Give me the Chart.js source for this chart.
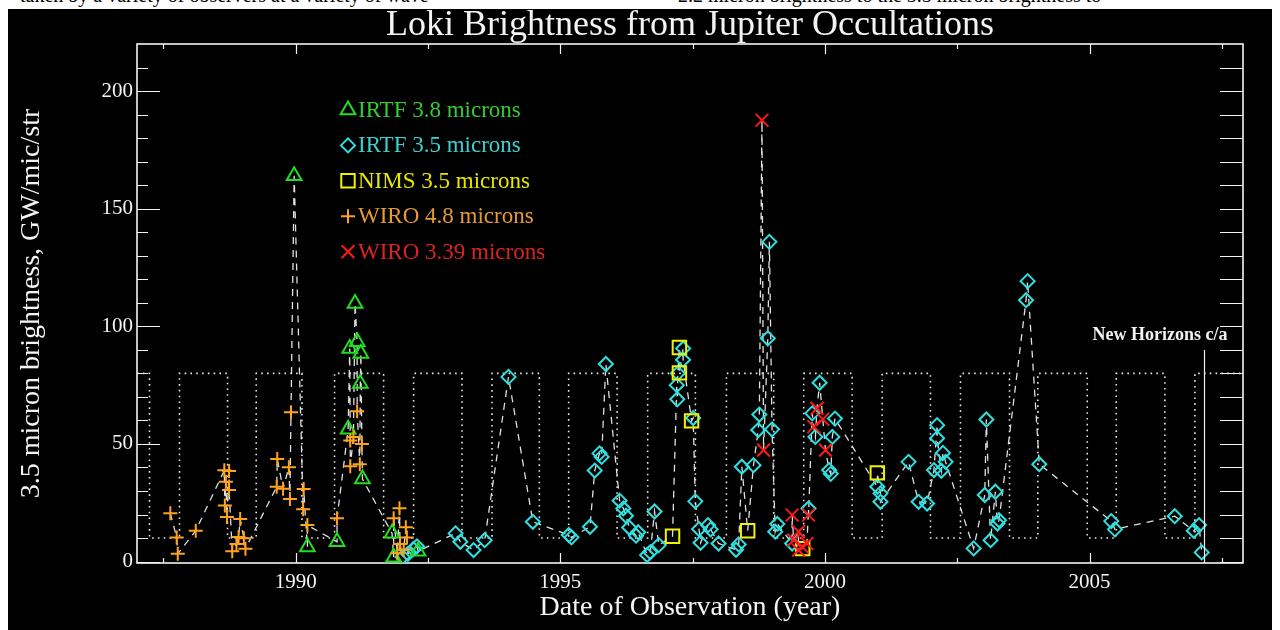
<!DOCTYPE html>
<html>
<head>
<meta charset="utf-8">
<script src="https://cdn.jsdelivr.net/npm/chart.js@4.4.1/dist/chart.umd.min.js"></script>
<style>
  html, body { margin: 0; padding: 0; background: #fff; width: 1280px; height: 630px; overflow: hidden; }
  #caption { position: absolute; left: 0; top: -16px; width: 1280px; height: 30px; font: 20px 'Liberation Serif', serif; color: #000; white-space: nowrap; }
  #caption span { position: absolute; top: 0; }
  #frame { position: absolute; left: 8px; top: 9px; width: 1264px; height: 621px; background: #000; z-index: 1; }
  canvas { display: block; }
</style>
</head>
<body>
<div id="caption"><span style="left:20px">taken by a variety of observers at a variety of wave</span><span style="left:678px">2.2 micron brightness to the 3.5 micron brightness to</span></div>
<div id="frame"><canvas id="chart" width="1264" height="621"></canvas></div>
<script>
const FONT = "'Liberation Serif', 'DejaVu Serif', serif";

// IRTF 3.8 microns (green triangles)
const irtf38Years = [1989.97, 1990.22, 1990.78, 1991.12, 1991.16, 1991.02, 1991.23, 1991.22, 1990.99, 1991.26, 1991.82, 1991.85, 1992.31];
const irtf38Values = [164, 6.2, 8.4, 109.7, 93.4, 90.6, 88.5, 75.7, 56.2, 35.1, 12.0, 1.8, 4.4];

// IRTF 3.5 microns (cyan diamonds)
const irtf35Years = [1992.02, 1992.12, 1992.22, 1992.29, 1993.02, 1993.11, 1993.36, 1993.57, 1994.02, 1994.48,
  1995.16, 1995.21, 1995.56, 1995.65, 1995.74, 1995.78, 1995.86, 1996.12, 1996.19, 1996.24, 1996.30, 1996.43,
  1996.47, 1996.64, 1996.70, 1996.78, 1996.86, 1997.20, 1997.21, 1997.22, 1997.32, 1997.32, 1997.51, 1997.55,
  1997.62, 1997.65, 1997.79, 1997.84, 1997.99, 1998.32, 1998.37, 1998.43, 1998.65, 1998.76, 1998.74, 1998.92,
  1998.95, 1999.00, 1999.06, 1999.10, 1999.38, 1999.69, 1999.90, 1999.76, 1999.82, 2000.19, 2000.14, 2000.08,
  2000.11, 2000.99, 2001.05, 2001.05, 2001.58, 2001.77, 2001.93, 2002.12, 2002.12, 2002.23, 2002.28, 2002.06,
  2002.20, 2002.81, 2003.05, 2003.02, 2003.22, 2003.13, 2003.26, 2003.29, 2003.83, 2003.80, 2004.05, 2005.41,
  2005.48, 2006.61, 2006.97, 2007.07, 2007.12];
const irtf35Values = [2.0, 3.3, 5.3, 6.5, 12.0, 8.4, 4.9, 9.1, 78.5, 16.9,
  11.3, 10.3, 14.8, 38.7, 46.0, 44.5, 84.0, 25.9, 22.6, 19.5, 14.5, 11.0,
  12.5, 2.8, 4.0, 21.3, 7.0, 75.0, 69.0, 80.0, 90.6, 85.8, 61.0, 25.6,
  13.8, 8.0, 15.5, 13.7, 7.7, 5.0, 7.3, 40.3, 41.0, 62.5, 55.9, 94.9,
  135.9, 56.2, 12.7, 16.0, 7.7, 22.6, 76.0, 63.0, 53.0, 60.8, 53.0, 38.9,
  37.3, 31.8, 29.0, 25.4, 42.4, 25.4, 24.7, 58.0, 52.4, 46.2, 42.4, 38.9,
  38.6, 5.6, 60.4, 28.3, 29.7, 9.1, 16.2, 17.6, 119.2, 111.1, 41.4, 17.2,
  13.7, 19.3, 13.1, 15.5, 3.9];

// NIMS 3.5 microns (yellow squares)
const nimsYears = [1997.25, 1997.25, 1997.48, 1997.12, 1998.54, 1999.58, 2000.99];
const nimsValues = [91.0, 80.2, 59.8, 10.8, 13.1, 5.5, 37.7];

// WIRO 4.8 microns (orange plus)
const wiro48Years = [1987.63, 1987.75, 1987.77, 1988.11, 1988.65, 1988.74, 1988.68, 1988.74, 1988.66, 1988.70,
  1988.95, 1988.92, 1988.88, 1988.80, 1989.05, 1989.02, 1989.65, 1989.64, 1989.76, 1989.87, 1989.91, 1989.89,
  1990.15, 1990.14, 1990.22, 1990.78, 1991.16, 1991.09, 1991.03, 1991.25, 1991.03, 1991.21, 1991.96, 1991.85,
  1992.08, 1992.10, 1991.97, 1992.04, 1991.92];
const wiro48Values = [20.5, 10.2, 3.3, 13.1, 38.8, 38.5, 33.9, 30.4, 23.8, 19.0,
  18.1, 10.5, 7.5, 4.4, 5.5, 9.9, 43.6, 31.8, 31.0, 40.1, 63.5, 26.6,
  30.9, 22.2, 15.5, 18.4, 63.9, 53.0, 51.5, 50.0, 40.5, 41.4, 22.7, 18.4,
  14.6, 10.2, 7.5, 5.0, 3.5];

// WIRO 3.39 microns (red x)
const wiro339Years = [1998.81, 1998.84, 1999.38, 1999.69, 1999.50, 1999.41, 1999.57, 1999.66, 1999.50, 1999.85, 1999.79, 1999.96, 2000.01];
const wiro339Values = [187.6, 47.4, 19.8, 19.8, 12.7, 9.1, 6.3, 7.7, 4.9, 65.1, 57.3, 60.5, 47.4];

// dotted square wave: observing windows
const windowFall = [1987.236, 1988.711, 1990.117, 1991.660, 1993.142, 1994.603, 1996.072, 1997.552, 1999.032, 2000.514, 2001.994, 2003.488, 2004.957, 2006.424];
const windowRise = [1987.803, 1989.253, 1990.733, 1992.227, 1993.709, 1995.157, 1996.650, 1998.138, 1999.599, 2001.081, 2002.561, 2004.023, 2005.505, 2006.991];
const windowHigh = 80;
const windowLow = 10;

const newHorizonsYear = 2007.16;

const xMin = 1987, xMax = 2007.9;
const yMin = -0.6, yMax = 220;
const xTicks = [1987.5, 1990, 1992.5, 1995, 1997.5, 2000, 2002.5, 2005, 2007.5];
const yTicks = [0, 10, 20, 30, 40, 50, 60, 70, 80, 90, 100, 110, 120, 130, 140, 150, 160, 170, 180, 190, 200, 210];

const pts = (xs, ys) => xs.map((x, i) => ({ x: x, y: ys[i] }));

// square wave path
const wavePts = [{ x: xMin, y: windowHigh }];
windowFall.forEach((f, i) => {
  wavePts.push({ x: f, y: windowHigh }, { x: f, y: windowLow });
  wavePts.push({ x: windowRise[i], y: windowLow }, { x: windowRise[i], y: windowHigh });
});
wavePts.push({ x: xMax, y: windowHigh });

// all points in time order for the dashed connector
const allPts = [].concat(
  pts(irtf38Years, irtf38Values), pts(irtf35Years, irtf35Values), pts(nimsYears, nimsValues),
  pts(wiro48Years, wiro48Values), pts(wiro339Years, wiro339Values)
).sort((a, b) => a.x - b.x);

const series = [
  { label: 'IRTF 3.8 microns', color: '#22dd22', text: '#33cc33', style: 'triangle', r: 8.5, data: pts(irtf38Years, irtf38Values), order: 3 },
  { label: 'IRTF 3.5 microns', color: '#2fe0e0', text: '#3cd0d0', style: 'rectRot', r: 7, data: pts(irtf35Years, irtf35Values), order: 5 },
  { label: 'NIMS 3.5 microns', color: '#f2f200', text: '#e6e600', style: 'rect', r: 9.5, data: pts(nimsYears, nimsValues), order: 4 },
  { label: 'WIRO 4.8 microns', color: '#ffa21c', text: '#e89a35', style: 'cross', r: 7, data: pts(wiro48Years, wiro48Values), order: 2 },
  { label: 'WIRO 3.39 microns', color: '#ff1a1a', text: '#dd2222', style: 'crossRot', r: 9, data: pts(wiro339Years, wiro339Values), order: 1 }
];

const datasets = [
  { label: 'windows', data: wavePts, showLine: true, pointRadius: 0, borderColor: '#e8e8e8', borderWidth: 1.6, borderDash: [1.6, 4.2], order: 10 },
  { label: 'connector', data: allPts, showLine: true, pointRadius: 0, borderColor: '#e0e0e0', borderWidth: 1.3, borderDash: [7, 6], order: 9 }
].concat(series.map(s => ({
  label: s.label, data: s.data, showLine: false, pointStyle: s.style, pointRadius: s.r,
  pointBorderColor: s.color, pointBackgroundColor: 'rgba(0,0,0,0)', pointBorderWidth: 2, order: s.order
})));

function marker(ctx, style, cx, cy, r) {
  ctx.beginPath();
  if (style === 'triangle') {
    ctx.moveTo(cx, cy - r); ctx.lineTo(cx + r * 0.866, cy + r * 0.5); ctx.lineTo(cx - r * 0.866, cy + r * 0.5); ctx.closePath();
  } else if (style === 'rectRot') {
    ctx.moveTo(cx, cy - r); ctx.lineTo(cx + r, cy); ctx.lineTo(cx, cy + r); ctx.lineTo(cx - r, cy); ctx.closePath();
  } else if (style === 'rect') {
    const h = r * Math.SQRT1_2; ctx.rect(cx - h, cy - h, 2 * h, 2 * h);
  } else if (style === 'cross') {
    ctx.moveTo(cx - r, cy); ctx.lineTo(cx + r, cy); ctx.moveTo(cx, cy - r); ctx.lineTo(cx, cy + r);
  } else {
    const h = r * Math.SQRT1_2;
    ctx.moveTo(cx - h, cy - h); ctx.lineTo(cx + h, cy + h); ctx.moveTo(cx + h, cy - h); ctx.lineTo(cx - h, cy + h);
  }
  ctx.stroke();
}

const axesBox = {
  id: 'axesBox',
  beforeDatasetsDraw(chart) {
    const { ctx, chartArea: a, scales: { x, y } } = chart;
    ctx.save();
    ctx.strokeStyle = '#f4f4f4';
    ctx.lineWidth = 1.2;
    ctx.beginPath();
    xTicks.forEach(v => {
      const px = Math.round(x.getPixelForValue(v)) + 0.5;
      const len = v % 5 === 0 ? 10 : 5;
      ctx.moveTo(px, a.bottom); ctx.lineTo(px, a.bottom - len);
      ctx.moveTo(px, a.top); ctx.lineTo(px, a.top + len);
    });
    yTicks.forEach(v => {
      const py = Math.round(y.getPixelForValue(v)) + 0.5;
      const len = v % 50 === 0 ? 23 : 11;
      ctx.moveTo(a.left, py); ctx.lineTo(a.left + len, py);
      ctx.moveTo(a.right, py); ctx.lineTo(a.right - 23, py);
    });
    ctx.stroke();
    ctx.lineWidth = 1.6;
    ctx.strokeRect(a.left, a.top, a.right - a.left, a.bottom - a.top);
    ctx.restore();
  },
  afterDatasetsDraw(chart) {
    const { ctx, chartArea: a, scales: { x, y } } = chart;
    ctx.save();
    // New Horizons closest approach
    const nx = Math.round(x.getPixelForValue(newHorizonsYear)) + 0.5;
    ctx.strokeStyle = '#eeeeee';
    ctx.lineWidth = 1.2;
    ctx.beginPath();
    ctx.moveTo(nx, a.bottom); ctx.lineTo(nx, y.getPixelForValue(90));
    ctx.stroke();
    ctx.fillStyle = '#f2f2f2';
    ctx.font = 'bold 18px ' + FONT;
    ctx.textAlign = 'right';
    ctx.textBaseline = 'middle';
    ctx.fillText('New Horizons c/a', nx + 23, y.getPixelForValue(96));
    // legend
    ctx.font = '23px ' + FONT;
    ctx.textAlign = 'left';
    ctx.lineWidth = 2;
    series.forEach((s, i) => {
      const cy = a.top + 66 + i * 35.4;
      const cx = a.left + 211;
      ctx.strokeStyle = s.color;
      marker(ctx, s.style, cx, cy, s.r);
      ctx.fillStyle = s.text;
      ctx.fillText(s.label, cx + 10, cy + 1);
    });
    ctx.restore();
  }
};

new Chart(document.getElementById('chart'), {
  type: 'scatter',
  data: { datasets: datasets },
  options: {
    responsive: false,
    animation: false,
    devicePixelRatio: 1,
    layout: { padding: { left: 0, right: 29, top: 0, bottom: 0 } },
    plugins: {
      legend: { display: false },
      tooltip: { enabled: false },
      title: {
        display: true,
        fullSize: false,
        text: 'Loki Brightness from Jupiter Occultations',
        color: '#f4f4f4',
        font: { family: FONT, size: 36, weight: 'normal', lineHeight: 0.9 },
        padding: { top: 0, bottom: 2.6 }
      }
    },
    scales: {
      x: {
        type: 'linear',
        min: xMin,
        max: xMax,
        afterBuildTicks: s => { s.ticks = xTicks.map(v => ({ value: v })); },
        afterFit: s => { s.height = 67; },
        grid: { display: false, drawTicks: false },
        border: { display: false },
        ticks: {
          color: '#f4f4f4', padding: 7, maxRotation: 0, autoSkip: false,
          font: { family: FONT, size: 21 },
          callback: v => (v % 5 === 0 ? String(v) : '')
        },
        title: {
          display: true, text: 'Date of Observation (year)', color: '#f4f4f4',
          font: { family: FONT, size: 28, lineHeight: 1.2 }, padding: { top: 0, bottom: 6 }
        }
      },
      y: {
        type: 'linear',
        min: yMin,
        max: yMax,
        afterBuildTicks: s => { s.ticks = yTicks.map(v => ({ value: v })); },
        afterFit: s => { s.width = 129; },
        grid: { display: false, drawTicks: false },
        border: { display: false },
        ticks: {
          color: '#f4f4f4', padding: 4, autoSkip: false,
          font: { family: FONT, size: 21 },
          callback: v => (v % 50 === 0 ? String(v) : '')
        },
        title: {
          display: true, text: '3.5 micron brightness, GW/mic/str', color: '#f4f4f4',
          font: { family: FONT, size: 28, lineHeight: 1.2 }, padding: { top: 7, bottom: 0 }
        }
      }
    }
  },
  plugins: [axesBox]
});
</script>
</body>
</html>
